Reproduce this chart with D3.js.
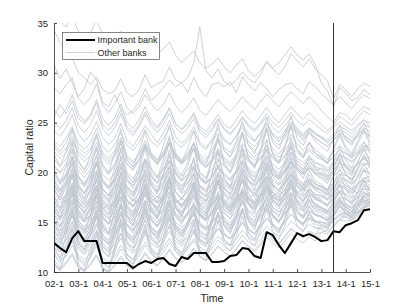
<!DOCTYPE html>
<html>
<head>
<meta charset="utf-8">
<script src="https://cdn.jsdelivr.net/npm/d3@7"></script>
<style>
  body { margin: 0; background: #fff; }
  svg { display: block; }
  text { font-family: "Liberation Sans", Arial, sans-serif; fill: #262626; }
</style>
</head>
<body>
<div id="chart"></div>
<script>
// Quarterly capital ratios, 2002 Q1 (index 0) .. 2015 Q1 (index 52).
var xTickLabels = ['02-1', '03-1', '04-1', '05-1', '06-1', '07-1', '08-1',
    '09-1', '10-1', '11-1', '12-1', '13-1', '14-1', '15-1'];
var yTicks = [10, 15, 20, 25, 30, 35];
var markerQuarter = 46; // 13-3

var importantBank = [
  12.9, 12.4, 12.0, 13.4, 14.1, 13.1, 13.1, 13.1, 10.9, 10.9, 10.9, 10.9,
  10.9, 10.4, 10.8, 11.1, 10.9, 11.3, 11.4, 10.8, 10.6, 11.5, 11.3, 11.9,
  11.9, 11.9, 11.0, 11.0, 11.1, 11.6, 11.7, 12.4, 12.3, 11.6, 11.4, 14.0,
  13.7, 12.7, 11.9, 12.9, 13.9, 13.6, 13.8, 13.5, 13.1, 13.2, 14.1, 14.0,
  14.7, 14.9, 15.2, 16.2, 16.3];

var otherBanks = [
  [34.3,33.0,32.3,31.5, 30.0,29.5,28.8,29.6, 28.3,27.9,28.2,29.4, 28.0,27.6,28.3,29.8, 28.5,28.9,29.2,30.6, 29.3,29.0,29.5,31.0, 34.6,30.2,29.5,30.4, 29.1,28.7,29.3,30.1, 29.4,29.0,29.8,31.2, 30.5,31.0,31.8,32.6, 31.8,31.3,31.9,30.8, 29.0,28.2,26.6,28.5, 28.0,27.2,27.5,28.3, 27.8],
  [30.8,29.4,30.4,29.0, 27.6,28.4,30.1,29.3, 27.0,26.6,27.8,26.4, 25.8,26.2,27.0,28.4, 27.2,27.8,28.5,29.3, 28.6,29.0,28.0,29.5, 28.3,27.6,28.8,29.0, 28.6,29.1,28.0,29.6, 28.8,28.2,29.0,28.4, 27.6,28.3,28.8,29.0, 28.4,27.9,29.1,28.6, 27.9,27.3,26.8,27.6, 27.0,26.4,27.2,27.8, 27.4],
  [35.8,35.2,34.6,35.6, 34.2,33.5,34.0,35.3, 33.8,33.1,33.6,34.2, 32.9,32.4,33.0,33.8, 32.5,31.9,32.4,33.1, 31.8,31.0,31.6,32.2, 31.0,30.4,30.9,31.5, 30.6,30.0,30.8,31.4, 30.2,29.6,30.3,31.0, 30.4,29.8,30.6,31.9, 31.2,30.6,31.4,30.4, 29.8,29.2,27.4,28.8, 28.3,27.6,28.4,29.0, 28.6],
  [28.5,27.9,28.8,29.5, 27.4,26.8,27.5,28.9, 26.8,26.0,26.9,28.1, 26.5,25.9,26.6,27.8, 26.9,26.2,26.8,28.0, 26.7,26.0,26.6,27.5, 26.2,25.7,26.5,27.3, 26.6,26.1,26.8,27.6, 26.9,26.3,27.1,27.9, 27.2,26.6,27.4,28.1, 27.5,26.9,27.6,27.0, 26.2,25.6,25.0,26.0, 25.8,25.2,26.0,26.6, 26.3],
  [25.6,26.8,25.9,27.2, 25.4,24.9,25.6,27.0, 24.8,24.2,25.0,26.3, 24.6,24.0,24.8,26.1, 25.0,24.4,25.2,26.4, 24.9,24.3,25.1,26.0, 24.6,24.1,24.9,25.8, 24.8,24.4,25.3,26.2, 25.4,24.9,25.7,26.5, 25.6,25.0,25.8,26.6, 25.9,25.3,26.0,25.4, 24.8,24.2,24.7,25.6, 25.2,24.7,25.5,26.2, 25.8],
  [23.2,22.6,23.5,24.6, 22.9,22.3,23.0,24.4, 22.6,22.0,22.8,24.0, 22.7,22.2,23.0,24.3, 23.1,22.6,23.4,24.5, 23.0,22.5,23.2,24.2, 22.8,22.3,23.1,24.0, 23.2,22.8,23.6,24.5, 23.6,23.1,23.9,24.8, 23.9,23.4,24.2,25.0, 24.1,23.6,24.3,23.8, 23.5,23.0,23.6,24.3, 24.0,23.5,24.2,24.8, 24.5],
  [22.1,21.4,22.0,23.2, 21.8,21.1,21.7,23.0, 21.5,20.8,21.6,22.9, 21.2,20.6,21.3,22.5, 21.6,21.0,21.8,22.8, 21.4,20.9,21.5,22.4, 21.0,20.5,21.2,22.1, 21.3,20.8,21.6,22.5, 21.7,21.2,21.9,22.7, 22.0,21.5,22.2,23.1, 22.3,21.8,22.4,21.9, 21.4,21.0,21.6,22.3, 21.9,21.4,22.0,22.6, 22.2],
  [19.4,18.8,19.6,20.7, 19.1,18.6,19.3,20.8, 19.0,18.4,19.2,20.5, 19.3,18.7,19.5,20.9, 19.6,19.0,19.9,21.2, 19.8,19.1,19.7,20.6, 19.4,18.9,19.6,20.4, 19.7,19.2,20.1,21.0, 20.2,19.6,20.4,21.3, 20.5,19.9,20.7,21.6, 20.8,20.3,21.0,20.5, 20.0,19.6,20.2,21.0, 20.6,20.1,20.8,21.4, 21.0],
  [18.2,17.5,18.3,19.6, 17.9,17.2,18.0,19.4, 17.6,17.0,17.8,19.1, 17.8,17.1,18.0,19.3, 18.1,17.5,18.4,19.5, 18.0,17.4,18.1,18.9, 17.7,17.2,17.9,18.8, 18.0,17.5,18.3,19.3, 18.4,17.9,18.6,19.6, 18.7,18.2,18.9,19.8, 19.0,18.5,19.1,18.6, 18.2,17.8,18.4,19.1, 18.7,18.3,18.9,19.5, 19.1],
  [16.4,15.9,16.6,17.8, 16.2,15.6,16.3,17.7, 15.9,15.3,16.1,17.5, 16.1,15.5,16.4,17.8, 16.5,15.9,16.8,18.0, 16.6,16.0,16.7,17.6, 16.4,15.9,16.6,17.5, 16.8,16.3,17.1,18.1, 17.3,16.8,17.5,18.5, 17.7,17.2,17.9,18.9, 18.1,17.6,18.3,17.8, 17.6,17.2,17.9,18.6, 18.3,17.9,18.5,19.2, 19.0],
  [13.6,13.0,13.8,15.0, 13.4,12.9,13.6,14.9, 13.3,12.7,13.5,14.8, 13.7,13.2,14.0,15.2, 14.1,13.6,14.4,15.5, 14.3,13.8,14.5,15.3, 14.2,13.7,14.4,15.2, 14.7,14.2,15.0,15.9, 15.2,14.7,15.4,16.3, 15.6,15.1,15.8,16.7, 16.0,15.5,16.2,15.8, 15.6,15.2,15.9,16.5, 16.2,15.8,16.4,17.0, 16.8],
  [11.8,11.2,11.6,12.7, 11.4,10.9,11.5,12.6, 11.0,10.5,11.2,12.3, 11.3,10.8,11.6,12.7, 11.8,11.3,12.0,13.0, 12.1,11.6,12.3,13.1, 12.2,11.8,12.4,13.2, 12.6,12.1,12.9,13.7, 13.0,12.6,13.3,14.1, 13.4,12.9,13.6,14.4, 13.8,13.4,14.0,13.6, 14.8,14.5,15.2,15.7, 16.0,15.8,16.4,17.0, 17.3],
  [10.8,10.3,11.0,11.9, 10.6,10.1,10.8,11.8, 10.4,10.0,10.7,11.6, 10.7,10.2,11.0,12.0, 11.1,10.7,11.4,12.3, 11.4,11.0,11.6,12.4, 11.6,11.2,11.8,12.6, 12.0,11.6,12.3,13.1, 12.5,12.0,12.7,13.5, 12.9,12.4,13.1,13.9, 13.3,12.9,13.5,13.1, 14.0,13.8,14.6,15.2, 15.6,15.3,15.9,16.6, 16.9],
  [24.2,23.6,24.5,25.8, 23.9,23.1,23.8,25.1, 23.5,22.8,23.4,24.9, 23.2,22.6,23.6,24.7, 23.8,23.0,23.9,25.2, 23.6,22.9,23.5,24.6, 23.1,22.5,23.3,24.4, 23.4,22.8,23.7,24.8, 23.9,23.2,24.0,25.0, 23.7,23.1,23.9,24.6, 24.0,23.4,24.1,23.5, 23.0,22.6,23.2,23.9, 23.3,22.9,23.6,24.1, 23.6],
  [22.9,22.1,23.0,24.4, 22.5,21.9,22.4,23.8, 22.0,21.4,22.2,23.5, 21.7,21.1,21.9,23.2, 22.0,21.3,22.1,23.4, 21.6,21.0,21.7,22.8, 21.2,20.6,21.4,22.3, 21.5,21.0,21.8,22.9, 22.1,21.5,22.3,23.3, 22.4,21.8,22.7,23.8, 22.9,22.2,23.0,22.3, 21.8,21.3,22.0,22.7, 22.1,21.6,22.4,23.0, 22.4],
  [21.3,20.6,21.4,22.8, 21.0,20.3,21.2,22.6, 20.8,20.0,20.9,22.2, 20.9,20.3,21.3,22.7, 21.5,20.8,21.7,23.0, 21.7,21.0,21.8,22.9, 21.5,21.0,21.9,23.1, 22.2,21.6,22.5,23.7, 22.8,22.2,23.0,24.2, 23.3,22.7,23.5,24.6, 23.8,23.2,24.0,23.4, 23.0,22.6,23.3,24.0, 23.6,23.1,23.9,24.5, 24.1],
  [20.6,19.9,20.5,21.5, 20.2,19.5,20.3,21.6, 19.8,19.2,19.9,21.3, 20.0,19.4,20.2,21.4, 20.3,19.6,20.4,21.2, 19.9,19.3,19.8,20.7, 19.5,19.0,19.6,20.5, 19.7,19.2,19.9,20.8, 20.0,19.5,20.2,21.0, 20.1,19.6,20.3,21.1, 20.3,19.8,20.4,19.9, 19.5,19.1,19.6,20.2, 19.7,19.3,19.8,20.3, 19.8],
  [19.8,19.0,19.7,21.0, 19.5,18.9,19.8,21.1, 19.3,18.6,19.4,20.9, 19.6,19.0,19.9,21.3, 20.0,19.4,20.3,21.6, 20.2,19.6,20.2,21.2, 20.0,19.5,20.3,21.3, 20.6,20.1,20.9,21.9, 21.1,20.6,21.4,22.3, 21.6,21.0,21.8,22.7, 22.0,21.5,22.2,21.6, 21.3,20.9,21.6,22.2, 21.9,21.5,22.1,22.7, 22.4],
  [19.1,18.3,18.8,20.3, 18.6,18.0,18.9,20.2, 18.3,17.6,18.5,19.9, 18.5,17.9,18.8,20.0, 18.8,18.2,19.0,20.1, 18.5,17.9,18.4,19.4, 18.1,17.7,18.3,19.2, 18.3,17.8,18.6,19.4, 18.6,18.1,18.8,19.6, 18.7,18.2,18.9,19.7, 18.9,18.4,19.0,18.5, 18.1,17.7,18.2,18.9, 18.3,17.9,18.5,19.0, 18.4],
  [18.5,17.8,18.6,19.9, 18.1,17.4,18.2,19.7, 17.9,17.3,18.1,19.4, 18.2,17.6,18.5,19.8, 18.6,18.0,18.8,20.0, 18.8,18.2,18.9,19.8, 18.6,18.1,18.8,19.9, 19.1,18.6,19.4,20.4, 19.6,19.1,19.8,20.8, 19.9,19.4,20.2,21.1, 20.3,19.8,20.5,20.0, 19.7,19.3,19.9,20.6, 20.1,19.7,20.4,21.0, 20.6],
  [17.5,16.9,17.6,18.7, 17.1,16.6,17.3,18.6, 16.9,16.3,17.1,18.3, 17.1,16.5,17.3,18.5, 17.4,16.9,17.6,18.6, 17.2,16.7,17.3,18.1, 16.9,16.5,17.1,17.9, 17.1,16.7,17.4,18.2, 17.4,16.9,17.6,18.4, 17.6,17.1,17.8,18.5, 17.8,17.3,17.9,17.4, 17.1,16.8,17.3,17.9, 17.3,17.0,17.5,18.0, 17.6],
  [16.9,16.2,17.0,18.4, 16.6,16.0,16.8,18.2, 16.4,15.8,16.6,18.0, 16.7,16.1,17.0,18.3, 17.1,16.5,17.4,18.6, 17.3,16.7,17.4,18.4, 17.2,16.7,17.5,18.5, 17.8,17.3,18.1,19.1, 18.3,17.8,18.5,19.5, 18.7,18.2,19.0,19.9, 19.1,18.6,19.3,18.8, 18.6,18.2,18.9,19.5, 19.3,18.9,19.5,20.1, 20.0],
  [16.8,17.6,16.9,17.9, 16.5,17.2,16.7,17.8, 16.3,16.9,16.5,17.6, 16.6,17.3,16.9,17.9, 17.0,17.6,17.2,18.1, 16.9,17.4,17.0,17.7, 16.7,17.3,16.9,17.6, 17.0,17.5,17.2,18.0, 17.3,17.9,17.5,18.3, 17.6,18.1,17.8,18.5, 17.9,18.4,18.0,17.6, 17.4,17.9,17.6,18.2, 17.8,18.3,17.9,18.4, 18.2],
  [16.0,15.4,16.1,17.3, 15.7,15.1,15.8,17.1, 15.4,14.9,15.6,16.8, 15.7,15.1,15.9,17.1, 16.0,15.5,16.2,17.2, 15.9,15.4,15.9,16.7, 15.6,15.2,15.8,16.6, 15.9,15.4,16.1,16.9, 16.2,15.8,16.4,17.2, 16.5,16.0,16.7,17.4, 16.8,16.3,16.9,16.5, 16.2,15.9,16.4,17.0, 16.5,16.2,16.7,17.2, 17.0],
  [15.3,14.7,15.5,16.9, 15.1,14.5,15.3,16.7, 14.9,14.3,15.1,16.5, 15.2,14.6,15.5,16.8, 15.6,15.0,15.9,17.1, 15.8,15.2,15.9,16.9, 15.7,15.2,16.0,17.0, 16.3,15.8,16.6,17.6, 16.8,16.3,17.0,18.0, 17.2,16.7,17.5,18.4, 17.6,17.1,17.8,17.3, 17.1,16.7,17.4,18.0, 17.8,17.4,18.0,18.6, 18.5],
  [15.0,14.5,15.2,16.2, 14.8,14.2,14.9,16.1, 14.5,14.0,14.7,15.8, 14.8,14.3,15.0,16.1, 15.1,14.6,15.3,16.2, 15.0,14.5,15.0,15.8, 14.8,14.4,15.0,15.7, 15.1,14.7,15.3,16.1, 15.4,15.0,15.6,16.4, 15.7,15.2,15.9,16.6, 16.0,15.6,16.1,15.7, 15.5,15.2,15.7,16.2, 15.8,15.5,16.0,16.5, 16.6],
  [14.7,14.1,14.9,16.2, 14.6,14.0,14.8,16.1, 14.4,13.9,14.6,15.9, 14.8,14.2,15.1,16.4, 15.3,14.7,15.6,16.8, 15.6,15.0,15.7,16.7, 15.6,15.1,15.9,17.0, 16.3,15.8,16.6,17.7, 16.9,16.4,17.2,18.2, 17.5,17.0,17.8,18.8, 18.1,17.6,18.3,17.8, 17.7,17.3,18.0,18.7, 18.5,18.1,18.8,19.4, 19.6],
  [14.1,13.6,14.3,15.6, 13.9,13.4,14.1,15.4, 13.7,13.2,13.9,15.2, 14.0,13.5,14.3,15.6, 14.5,14.0,14.7,15.9, 14.7,14.2,14.8,15.7, 14.6,14.2,14.9,15.8, 15.1,14.7,15.4,16.4, 15.6,15.2,15.9,16.8, 16.1,15.7,16.4,17.2, 16.5,16.1,16.7,16.3, 16.1,15.8,16.4,17.0, 16.8,16.5,17.1,17.6, 17.9],
  [13.9,13.2,14.0,15.8, 13.6,13.0,13.8,15.5, 13.4,12.8,13.6,15.3, 13.8,13.2,14.1,15.9, 14.4,13.8,14.7,16.3, 14.7,14.1,14.8,16.1, 14.8,14.2,15.1,16.5, 15.4,14.9,15.7,17.2, 16.0,15.5,16.3,17.6, 16.5,16.0,16.8,18.0, 17.0,16.5,17.2,16.7, 16.5,16.1,16.8,17.5, 17.3,16.9,17.6,18.3, 18.2],
  [13.1,12.6,13.2,14.3, 12.8,12.3,13.0,14.1, 12.6,12.1,12.8,13.9, 12.9,12.4,13.1,14.2, 13.3,12.8,13.5,14.5, 13.4,12.9,13.5,14.3, 13.3,12.9,13.6,14.4, 13.8,13.4,14.1,15.0, 14.3,13.9,14.6,15.4, 14.8,14.3,15.0,15.8, 15.2,14.8,15.4,15.0, 14.8,14.5,15.1,15.7, 15.5,15.2,15.8,16.4, 16.7],
  [12.5,12.0,12.7,13.8, 12.3,11.8,12.4,13.6, 12.1,11.6,12.3,13.4, 12.4,11.9,12.7,13.8, 12.9,12.4,13.1,14.1, 13.1,12.6,13.2,14.0, 13.1,12.7,13.4,14.3, 13.7,13.3,14.0,14.9, 14.2,13.8,14.5,15.3, 14.7,14.3,15.0,15.8, 15.3,14.9,15.5,15.1, 15.0,14.7,15.3,15.9, 15.8,15.5,16.1,16.7, 17.0],
  [12.0,11.5,12.1,13.1, 11.7,11.2,11.9,12.9, 11.4,11.0,11.6,12.7, 11.7,11.3,12.0,13.0, 12.2,11.7,12.4,13.4, 12.4,11.9,12.5,13.3, 12.5,12.1,12.8,13.6, 13.0,12.6,13.3,14.2, 13.5,13.1,13.8,14.6, 14.0,13.6,14.3,15.1, 14.6,14.2,14.8,14.4, 14.3,14.0,14.6,15.2, 15.1,15.2,15.6,16.5, 16.8],
  [10.6,10.2,10.8,11.7, 10.4,10.1,10.7,11.6, 10.3,10.0,10.6,11.4, 10.6,10.2,10.9,11.8, 11.0,10.6,11.3,12.2, 11.3,10.9,11.5,12.3, 11.5,11.1,11.8,12.6, 12.0,11.6,12.3,13.2, 12.6,12.2,12.9,13.8, 13.2,12.8,13.5,14.3, 13.9,13.5,14.1,13.8, 14.0,14.2,14.8,15.4, 15.8,15.6,16.0,16.8, 17.1],
  [20.7,20.0,20.9,22.4, 20.6,19.9,20.8,22.3, 20.4,19.8,20.7,22.1, 20.8,20.2,21.2,22.6, 21.4,20.8,21.7,23.0, 21.8,21.2,21.9,23.0, 21.8,21.3,22.2,23.4, 22.5,22.0,22.9,24.0, 23.1,22.6,23.4,24.5, 23.7,23.1,23.9,25.0, 24.3,23.7,24.4,23.9, 23.6,23.2,23.9,24.6, 24.3,23.9,24.6,25.2, 25.0],
  [22.6,21.8,22.4,23.5, 22.1,21.5,22.2,23.6, 21.8,21.1,21.8,23.2, 21.5,20.9,21.7,22.9, 21.8,21.2,21.9,23.0, 21.4,20.8,21.4,22.4, 21.0,20.5,21.1,22.0, 21.1,20.6,21.3,22.2, 21.3,20.8,21.5,22.3, 21.4,20.9,21.6,22.4, 21.5,21.0,21.6,21.1, 20.6,20.2,20.8,21.4, 20.8,20.4,20.9,21.4, 20.7],
  [18.7,18.1,18.9,20.3, 18.5,17.9,18.7,20.1, 18.3,17.7,18.5,19.9, 18.6,18.0,18.9,20.3, 19.1,18.5,19.4,20.6, 19.3,18.7,19.4,20.4, 19.3,18.8,19.6,20.6, 19.9,19.4,20.2,21.2, 20.4,19.9,20.6,21.6, 20.8,20.3,21.0,22.0, 21.2,20.7,21.4,20.9, 20.8,20.4,21.1,21.8, 21.5,21.1,21.7,22.3, 22.2],
  [17.1,16.5,17.3,18.7, 17.0,16.4,17.2,18.6, 16.8,16.2,17.0,18.5, 17.2,16.6,17.5,18.9, 17.7,17.1,18.0,19.3, 18.0,17.4,18.1,19.1, 18.0,17.5,18.3,19.3, 18.7,18.2,19.0,20.0, 19.3,18.8,19.5,20.5, 19.8,19.3,20.0,21.0, 20.3,19.8,20.4,19.9, 19.9,19.5,20.2,20.9, 20.6,20.2,20.9,21.5, 21.4],
  [16.1,15.5,16.3,17.7, 16.0,15.4,16.2,17.7, 15.9,15.3,16.1,17.6, 16.4,15.8,16.7,18.1, 17.0,16.4,17.3,18.6, 17.4,16.8,17.5,18.6, 17.6,17.1,17.9,19.0, 18.4,17.9,18.7,19.8, 19.1,18.6,19.4,20.4, 19.8,19.3,20.1,21.1, 20.5,20.0,20.7,20.2, 20.4,20.1,20.8,21.6, 21.4,21.0,21.8,22.5, 22.8],
  [15.7,15.2,15.9,17.2, 15.5,15.0,15.7,17.0, 15.3,14.8,15.5,16.8, 15.6,15.1,15.9,17.2, 16.1,15.6,16.4,17.5, 16.4,15.9,16.5,17.4, 16.4,15.9,16.7,17.7, 17.0,16.5,17.3,18.3, 17.5,17.0,17.8,18.8, 18.0,17.5,18.3,19.2, 18.6,18.1,18.8,18.3, 18.3,17.9,18.6,19.3, 19.2,18.8,19.5,20.1, 20.6],
  [14.4,13.9,14.6,15.9, 14.3,13.8,14.5,15.8, 14.2,13.7,14.4,15.7, 14.6,14.1,14.9,16.3, 15.2,14.7,15.5,16.8, 15.6,15.1,15.8,16.8, 15.8,15.3,16.1,17.2, 16.6,16.1,16.9,18.0, 17.3,16.8,17.6,18.6, 18.0,17.5,18.3,19.3, 18.7,18.2,18.9,18.4, 18.6,18.3,19.0,19.8, 19.7,19.4,20.1,20.7, 21.0],
  [19.9,19.2,19.8,20.9, 19.4,18.8,19.6,20.8, 19.1,18.5,19.2,20.5, 19.2,18.7,19.5,20.6, 19.5,18.9,19.6,20.5, 19.1,18.6,19.0,19.9, 18.7,18.3,18.8,19.7, 18.9,18.4,19.1,19.9, 19.1,18.7,19.3,20.0, 19.2,18.7,19.4,20.1, 19.3,18.9,19.4,18.9, 18.5,18.1,18.6,19.2, 18.7,18.3,18.8,19.3, 18.6],
  [17.9,17.2,17.8,18.9, 17.4,16.8,17.5,18.7, 17.1,16.5,17.2,18.4, 17.2,16.7,17.4,18.5, 17.4,16.9,17.5,18.4, 17.1,16.6,17.0,17.8, 16.7,16.3,16.8,17.6, 16.8,16.4,17.0,17.8, 17.0,16.6,17.2,17.9, 17.1,16.7,17.3,18.0, 17.2,16.8,17.3,16.9, 16.5,16.2,16.7,17.2, 16.7,16.4,16.9,17.3, 16.9],
  [25.1,24.4,25.2,26.5, 24.7,24.0,24.8,26.2, 24.4,23.7,24.5,25.9, 24.3,23.7,24.6,25.8, 24.7,24.0,24.8,25.9, 24.5,23.9,24.4,25.4, 24.0,23.5,24.2,25.2, 24.3,23.8,24.6,25.6, 24.8,24.3,25.0,25.9, 25.0,24.5,25.2,26.0, 25.2,24.7,25.3,24.8, 24.3,23.9,24.5,25.1, 24.6,24.2,24.8,25.3, 24.6],
  [26.3,25.5,26.4,27.8, 25.9,25.1,25.8,27.3, 25.4,24.7,25.5,26.9, 25.0,24.4,25.3,26.6, 25.3,24.6,25.4,26.5, 24.9,24.3,24.8,25.8, 24.3,23.8,24.5,25.4, 24.4,23.9,24.6,25.5, 24.6,24.1,24.8,25.6, 24.5,24.0,24.7,25.4, 24.4,23.9,24.5,24.0, 23.4,23.0,23.6,24.2, 23.6,23.2,23.8,24.3, 23.5],
  [12.5,11.4,13.8,16.2, 12.9,12.1,13.6,15.9, 12.2,11.5,14.0,16.8, 13.1,12.4,13.9,16.5, 13.6,12.9,14.8,17.2, 13.9,13.1,14.6,16.4, 13.2,12.8,14.9,17.5, 14.6,13.8,15.5,17.9, 15.1,14.2,16.1,18.6, 15.8,15.0,16.4,18.9, 16.3,15.6,17.2,16.1, 15.9,15.4,16.8,18.2, 16.7,16.0,17.4,18.8, 17.6],
  [14.9,13.6,15.2,18.1, 14.4,13.2,14.9,17.6, 13.8,12.9,15.3,18.4, 14.7,13.9,15.6,18.0, 15.4,14.5,16.2,19.1, 15.6,14.8,16.0,18.3, 15.0,14.4,16.5,19.2, 16.1,15.3,17.0,19.6, 16.8,15.9,17.6,20.3, 17.3,16.5,18.0,20.6, 17.9,17.1,18.6,17.5, 17.2,16.6,18.1,19.9, 18.3,17.5,18.9,20.4, 19.0],
  [11.2,10.4,11.9,13.5, 10.8,10.2,11.6,13.2, 10.5,10.1,12.0,13.9, 11.3,10.6,12.2,14.1, 11.9,11.2,12.8,14.8, 12.1,11.4,12.6,14.2, 11.6,11.2,13.0,15.1, 12.8,12.1,13.6,15.6, 13.4,12.6,14.2,16.3, 14.0,13.3,14.7,16.8, 14.6,14.0,15.4,14.5, 14.4,14.6,15.6,16.9, 15.9,15.5,16.5,17.6, 17.2],
  [16.8,15.5,17.3,19.8, 16.2,15.1,16.9,19.4, 15.7,14.8,17.1,20.1, 16.5,15.6,17.4,19.7, 17.1,16.2,18.0,20.6, 17.3,16.4,17.7,19.9, 16.6,16.0,18.2,20.8, 17.8,16.9,18.6,21.1, 18.4,17.5,19.2,21.7, 18.9,18.1,19.6,22.0, 19.5,18.7,20.2,19.1, 18.8,18.2,19.7,21.3, 19.9,19.1,20.5,21.8, 20.5],
  [13.4,12.3,14.6,17.0, 13.0,12.2,14.1,16.6, 12.6,11.9,14.5,17.3, 13.7,12.9,14.6,17.1, 14.2,13.4,15.3,17.8, 14.5,13.6,15.1,17.0, 13.8,13.3,15.6,18.1, 15.2,14.4,16.1,18.5, 15.7,14.9,16.7,19.1, 16.3,15.5,17.1,19.4, 16.9,16.1,17.7,16.6, 16.4,15.9,17.3,18.7, 17.4,16.7,18.0,19.2, 18.1],
  [18.4,17.2,18.9,21.6, 17.9,16.8,18.4,21.1, 17.3,16.5,18.8,21.7, 18.0,17.2,19.0,21.3, 18.7,17.8,19.7,22.3, 18.9,18.0,19.4,21.5, 18.2,17.6,19.8,22.4, 19.3,18.5,20.2,22.7, 19.9,19.0,20.8,23.2, 20.4,19.6,21.2,23.5, 21.0,20.2,21.7,20.6, 20.3,19.7,21.1,22.6, 21.2,20.5,21.8,23.1, 21.9],
  [15.8,14.6,16.1,18.7, 15.3,14.2,15.8,18.3, 14.8,13.9,16.2,19.0, 15.6,14.7,16.5,18.8, 16.2,15.3,17.1,19.6, 16.4,15.5,16.9,18.9, 15.8,15.2,17.3,19.8, 16.9,16.1,17.8,20.2, 17.5,16.6,18.3,20.7, 18.0,17.2,18.8,21.1, 18.6,17.8,19.3,18.2, 17.9,17.3,18.8,20.4, 19.0,18.3,19.6,20.9, 19.7],
  [14.2,13.3,14.8,16.5, 13.8,13.0,14.4,16.2, 13.4,12.8,14.7,16.8, 14.0,13.4,14.9,16.6, 14.5,13.8,15.3,17.1, 14.6,13.9,15.0,16.5, 14.0,13.6,15.3,17.2, 14.9,14.3,15.6,17.4, 15.3,14.6,15.9,17.7, 15.6,15.0,16.2,17.9, 16.0,15.4,16.5,15.7, 15.5,15.1,16.2,17.3, 16.3,15.8,16.8,17.6, 17.0],
  [20.3,18.9,20.6,23.1, 19.7,18.6,20.1,22.6, 19.1,18.3,20.5,23.2, 19.8,19.0,20.7,22.8, 20.4,19.5,21.3,23.7, 20.6,19.7,21.0,23.0, 19.9,19.3,21.4,23.8, 20.9,20.1,21.8,24.1, 21.4,20.6,22.3,24.5, 21.8,21.0,22.6,24.8, 22.3,21.5,23.0,21.9, 21.5,20.9,22.3,23.7, 22.4,21.7,22.9,24.1, 22.8],
  [12.9,12.0,13.3,15.1, 12.6,11.8,13.0,14.8, 12.1,11.5,13.4,15.4, 12.8,12.1,13.6,15.3, 13.3,12.6,14.1,15.9, 13.5,12.8,13.9,15.3, 12.9,12.5,14.2,16.0, 13.9,13.3,14.6,16.3, 14.4,13.8,15.0,16.7, 14.8,14.2,15.4,17.0, 15.3,14.8,15.8,15.1, 15.0,14.8,15.7,16.6, 15.9,15.6,16.4,17.1, 17.4],
  [17.6,16.4,18.0,20.4, 17.1,16.0,17.6,20.0, 16.6,15.8,18.0,20.7, 17.3,16.5,18.2,20.3, 17.9,17.0,18.8,21.2, 18.1,17.2,18.5,20.5, 17.4,16.9,19.0,21.4, 18.5,17.7,19.4,21.8, 19.1,18.2,19.9,22.3, 19.6,18.8,20.3,22.6, 20.2,19.4,20.8,19.8, 19.4,18.9,20.3,21.8, 20.5,19.8,21.1,22.4, 21.3],
  [10.9,10.1,12.2,14.3, 10.6,10.0,11.8,13.9, 10.2,10.0,12.4,14.7, 11.4,10.8,12.6,14.5, 12.1,11.4,13.3,15.4, 12.4,11.7,13.1,14.8, 11.9,11.5,13.6,15.7, 13.2,12.6,14.1,16.2, 13.9,13.2,14.8,16.9, 14.5,13.9,15.2,17.3, 15.2,14.6,15.9,14.8, 14.6,14.3,15.5,16.8, 15.9,15.4,16.4,17.5, 17.6],
  [21.8,20.6,22.1,24.3, 21.2,20.2,21.7,23.9, 20.7,19.9,22.0,24.4, 21.3,20.5,22.2,24.1, 21.8,20.9,22.7,24.8, 22.0,21.1,22.4,24.2, 21.3,20.8,22.7,24.9, 22.2,21.5,23.1,25.2, 22.7,21.9,23.5,25.5, 23.0,22.3,23.8,25.7, 23.4,22.7,24.1,23.1, 22.6,22.1,23.4,24.8, 23.3,22.7,23.9,25.0, 23.6],
  [17.2,16.1,17.6,19.8, 16.7,15.8,17.1,19.3, 16.2,15.5,17.4,19.8, 16.6,15.9,17.3,19.3, 16.9,16.1,17.7,19.7, 16.8,16.0,17.2,19.0, 16.1,15.7,17.4,19.3, 16.6,16.0,17.5,19.2, 16.8,16.2,17.6,19.3, 16.9,16.3,17.5,19.2, 17.1,16.5,17.6,16.8, 16.4,16.0,17.1,18.2, 16.9,16.4,17.3,18.1, 17.4],
  [15.2,14.1,15.8,18.2, 14.9,13.9,15.6,17.9, 14.6,13.8,16.0,18.6, 15.5,14.7,16.5,18.6, 16.2,15.3,17.2,19.5, 16.5,15.6,17.1,19.0, 16.2,15.6,17.7,20.0, 17.3,16.5,18.2,20.5, 17.9,17.0,18.8,21.0, 18.5,17.7,19.2,21.4, 19.1,18.3,19.8,18.8, 18.6,18.1,19.6,21.1, 19.8,19.1,20.4,21.6, 20.9],
  [13.6,12.8,14.2,15.9, 13.2,12.5,13.9,15.6, 12.9,12.3,14.2,16.1, 13.5,12.9,14.4,16.0, 14.0,13.3,14.9,16.6, 14.2,13.5,14.7,16.0, 13.6,13.2,15.0,16.8, 14.6,14.0,15.4,17.1, 15.1,14.5,15.8,17.5, 15.5,14.9,16.1,17.8, 16.0,15.4,16.6,15.8, 15.6,15.2,16.4,17.5, 16.5,16.0,16.9,17.8, 18.0],
  [18.9,17.7,19.3,21.5, 18.4,17.4,18.9,21.1, 17.9,17.1,19.2,21.6, 18.5,17.7,19.4,21.3, 19.0,18.1,19.9,21.9, 19.2,18.3,19.6,21.3, 18.5,18.0,19.9,22.0, 19.4,18.7,20.2,22.3, 19.9,19.1,20.6,22.7, 20.2,19.5,20.9,22.9, 20.6,19.9,21.3,20.3, 19.8,19.3,20.6,22.0, 20.5,19.9,21.1,22.3, 21.0],
  [16.3,15.3,16.8,18.9, 15.9,15.0,16.4,18.5, 15.5,14.8,16.7,19.0, 16.0,15.3,16.8,18.7, 16.4,15.6,17.2,19.2, 16.5,15.7,16.9,18.6, 15.9,15.4,17.1,19.1, 16.6,16.0,17.4,19.3, 17.0,16.3,17.7,19.6, 17.3,16.7,17.9,19.8, 17.6,17.0,18.2,17.3, 17.0,16.6,17.7,18.9, 17.6,17.1,18.1,19.2, 18.1],
  [11.7,10.9,12.8,14.6, 11.3,10.6,12.4,14.2, 10.9,10.4,12.7,15.0, 11.8,11.1,12.9,14.8, 12.4,11.7,13.6,15.6, 12.7,11.9,13.3,15.0, 12.1,11.8,13.8,16.0, 13.3,12.7,14.3,16.4, 13.9,13.3,14.9,17.0, 14.6,14.0,15.4,17.5, 15.3,14.8,16.0,15.1, 15.0,14.9,15.9,17.2, 16.2,15.8,16.7,17.9, 17.8],
  [19.3,18.1,19.8,22.2, 18.9,17.8,19.4,21.8, 18.4,17.6,19.9,22.5, 19.2,18.4,20.2,22.4, 19.8,18.9,20.8,23.1, 20.1,19.2,20.6,22.5, 19.6,19.0,21.1,23.4, 20.7,19.9,21.6,23.9, 21.3,20.4,22.1,24.3, 21.8,21.0,22.5,24.6, 22.3,21.5,23.0,21.9, 21.6,21.0,22.4,23.9, 22.6,21.9,23.2,24.4, 23.1]
];

(function() {
  var width = 409,
      height = 306,
      plot = {left: 54, right: 370, top: 23, bottom: 272},
      axisColor = '#262626',
      otherColor = '#bfc7d0';

  otherBanks.forEach(function(s, i) {
    if (s.length !== importantBank.length) {
      throw 'otherBanks[' + i + '] has ' + s.length + ' values';
    }
  });

  var svg = d3.select('#chart').append('svg')
      .attr('width', width)
      .attr('height', height);

  var x = d3.scaleLinear()
      .domain([0, importantBank.length - 1])
      .range([plot.left, plot.right]);
  var y = d3.scaleLinear()
      .domain([yTicks[0], yTicks[yTicks.length - 1]])
      .range([plot.bottom, plot.top]);

  svg.append('clipPath').attr('id', 'plotClip')
    .append('rect')
      .attr('x', plot.left)
      .attr('y', plot.top)
      .attr('width', plot.right - plot.left)
      .attr('height', plot.bottom - plot.top);

  var line = d3.line()
      .x(function(d, i) { return x(i); })
      .y(function(d) { return y(d); });

  var series = svg.append('g').attr('clip-path', 'url(#plotClip)');

  series.selectAll('path.other').data(otherBanks)
    .enter().append('path')
      .attr('class', 'other')
      .attr('d', line)
      .attr('fill', 'none')
      .attr('stroke', otherColor)
      .attr('stroke-width', 0.8)
      .attr('stroke-linejoin', 'round');

  series.append('path')
      .attr('d', line(importantBank))
      .attr('fill', 'none')
      .attr('stroke', '#000')
      .attr('stroke-width', 2)
      .attr('stroke-linejoin', 'round');

  // marker at 13-3
  svg.append('line')
      .attr('x1', x(markerQuarter)).attr('x2', x(markerQuarter))
      .attr('y1', y(yTicks[0])).attr('y2', y(yTicks[yTicks.length - 1]))
      .attr('stroke', '#333')
      .attr('stroke-width', 1);

  // axes, ticks pointing inward
  var xAxis = d3.axisBottom(x)
      .tickValues(xTickLabels.map(function(d, i) { return i * 4; }))
      .tickFormat(function(d) { return xTickLabels[d / 4]; })
      .tickSizeInner(-3)
      .tickSizeOuter(0)
      .tickPadding(8);
  var yAxis = d3.axisLeft(y)
      .tickValues(yTicks)
      .tickSizeInner(-3)
      .tickSizeOuter(0)
      .tickPadding(6);

  var gx = svg.append('g')
      .attr('transform', 'translate(0,' + plot.bottom + ')')
      .call(xAxis);
  var gy = svg.append('g')
      .attr('transform', 'translate(' + plot.left + ',0)')
      .call(yAxis);

  [gx, gy].forEach(function(g) {
    g.select('.domain').attr('stroke', axisColor).attr('stroke-width', 0.8);
    g.selectAll('.tick line').attr('stroke', axisColor).attr('stroke-width', 0.8);
    g.selectAll('.tick text')
        .attr('fill', axisColor)
        .style('font-family', '"Liberation Sans", Arial, sans-serif')
        .style('font-size', '9.5px');
  });

  svg.append('text')
      .attr('x', (plot.left + plot.right) / 2)
      .attr('y', 302)
      .attr('text-anchor', 'middle')
      .style('font-size', '10.5px')
      .text('Time');

  svg.append('text')
      .attr('transform', 'translate(33,' + ((plot.top + plot.bottom) / 2) + ') rotate(-90)')
      .attr('text-anchor', 'middle')
      .style('font-size', '10.5px')
      .text('Capital ratio');

  // legend
  var legend = svg.append('g').attr('transform', 'translate(62,32)');
  legend.append('rect')
      .attr('x', 0.5).attr('y', 0.5)
      .attr('width', 97).attr('height', 27)
      .attr('fill', '#fff')
      .attr('stroke', '#555')
      .attr('stroke-width', 0.7);

  var entries = [
    {label: 'Important bank', color: '#000', width: 2},
    {label: 'Other banks', color: otherColor, width: 0.8}
  ];
  var rows = legend.selectAll('g.entry').data(entries)
    .enter().append('g')
      .attr('class', 'entry')
      .attr('transform', function(d, i) { return 'translate(0,' + (8 + i * 12.5) + ')'; });
  rows.append('line')
      .attr('x1', 4).attr('x2', 33)
      .attr('stroke', function(d) { return d.color; })
      .attr('stroke-width', function(d) { return d.width; });
  rows.append('text')
      .attr('x', 35.5)
      .attr('y', 3.3)
      .style('font-size', '9px')
      .text(function(d) { return d.label; });
})();
</script>
</body>
</html>
